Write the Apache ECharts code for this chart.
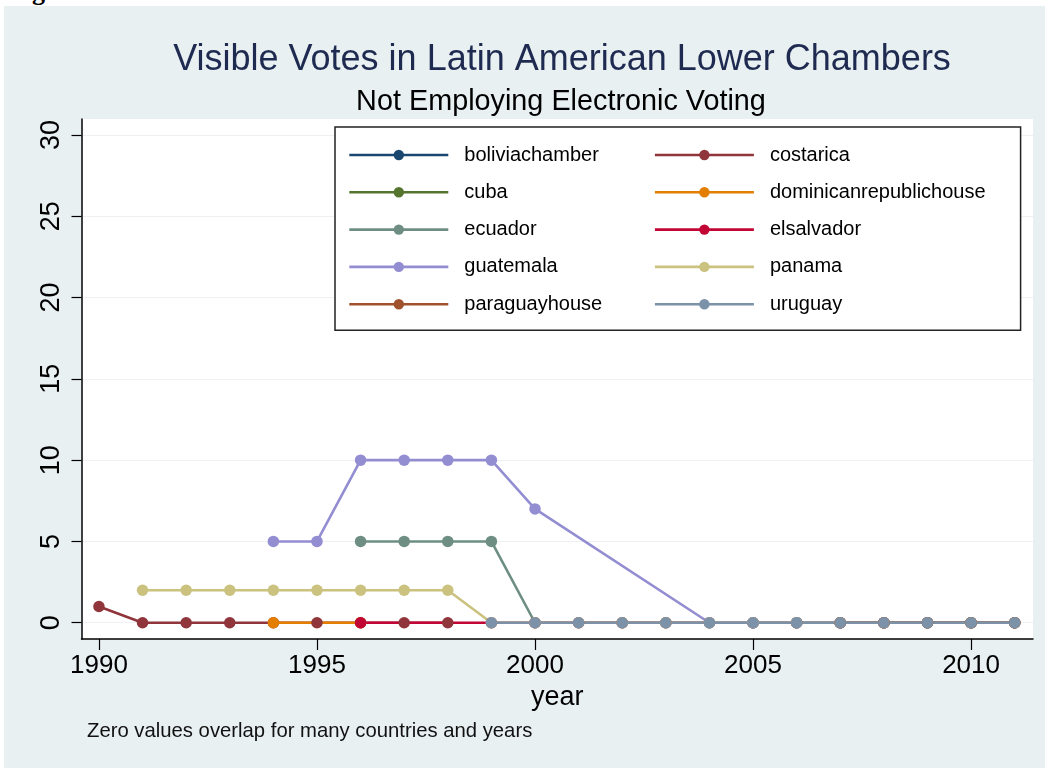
<!DOCTYPE html>
<html>
<head>
<meta charset="utf-8">
<script src="https://cdn.jsdelivr.net/npm/echarts@6/dist/echarts.min.js"></script>
<style>
  html, body { margin: 0; padding: 0; background: #ffffff; }
  #chart { position: absolute; left: 0; top: 0; width: 1045px; height: 768px; }
  #topstrip { position: absolute; left: 0; top: 0; width: 1045px; height: 6px; background: #ffffff; overflow: hidden; }
  #topstrip span { position: absolute; left: 9px; top: -23px; line-height: 30px; font: bold 26px "Liberation Serif", "DejaVu Serif", serif; color: #000; }
  #leftstrip { position: absolute; left: 0; top: 0; width: 4px; height: 768px; background: #ffffff; }
</style>
</head>
<body>
<div id="chart"></div>
<div id="leftstrip"></div>
<div id="topstrip"><span>Figure</span></div>
<script>
// ---- data ----
const years = [1990,1991,1992,1993,1994,1995,1996,1997,1998,1999,2000,2001,2002,2003,2004,2005,2006,2007,2008,2009,2010,2011];
const countries = ['boliviachamber','costarica','cuba','dominicanrepublichouse','ecuador','elsalvador','guatemala','panama','paraguayhouse','uruguay'];
const boliviachamber         = [null,null,null,null,null,null,null,null,null,null,null,null,null,null,null,0,0,0,0,0,0,0];
const costarica              = [1,0,0,0,0,0,0,0,0,null,null,null,null,null,null,null,null,null,null,null,null,null];
const cuba                   = [null,null,null,null,null,null,null,null,null,null,null,null,null,null,null,null,0,0,0,0,0,0];
const dominicanrepublichouse = [null,null,null,null,0,null,0,null,null,null,null,null,null,null,null,null,null,null,null,null,null,null];
const ecuador                = [null,null,null,null,null,null,5,5,5,5,0,0,0,0,0,0,0,0,0,0,0,0];
const elsalvador             = [null,null,null,null,null,null,0,null,null,0,0,0,0,0,0,0,0,0,0,0,0,0];
const guatemala              = [null,null,null,null,5,5,10,10,10,10,7,null,null,null,0,0,0,0,0,0,0,0];
const panama                 = [null,2,2,2,2,2,2,2,2,0,0,0,0,0,0,0,0,0,0,0,0,0];
const paraguayhouse          = [null,null,null,null,null,null,null,null,null,null,null,null,null,null,null,null,null,0,0,0,0,0];
const uruguay                = [null,null,null,null,null,null,null,null,null,0,0,0,0,0,0,0,0,0,0,0,0,0];
const seriesValues = [boliviachamber,costarica,cuba,dominicanrepublichouse,ecuador,elsalvador,guatemala,panama,paraguayhouse,uruguay];
const colors = ['#1a476f','#90353b','#55752f','#e37e00','#6e8e84','#c10534','#938dd2','#cac27e','#a0522d','#7b92a8'];
const xTicks = [1990,1995,2000,2005,2010];
const yTicks = [0,5,10,15,20,25,30];
const titleText = 'Visible Votes in Latin American Lower Chambers';
const subtitleText = 'Not Employing Electronic Voting';
const noteText = 'Zero values overlap for many countries and years';
const xName = 'year';

const FONT = '"Liberation Sans", Arial, Helvetica, sans-serif';

function pairs(vals) {
  const out = [];
  vals.forEach((v, i) => { if (v !== null) out.push([years[i], v]); });
  return out;
}

const series = countries.map((name, i) => ({
  name: name,
  type: 'line',
  data: pairs(seriesValues[i]),
  color: colors[i],
  symbol: 'circle',
  symbolSize: 11.5,
  showAllSymbol: true,
  lineStyle: { width: 2.6, color: colors[i] },
  itemStyle: { color: colors[i] },
  emphasis: { disabled: true },
  animation: false
}));

const chart = echarts.init(document.getElementById('chart'), null, { renderer: 'canvas' });
chart.setOption({
  backgroundColor: '#e8f0f2',
  animation: false,
  title: [
    { text: titleText, left: 557, top: 37, textAlign: 'center',
      textStyle: { fontFamily: FONT, fontSize: 36, fontWeight: 'normal', color: '#1e2a50' } },
    { text: subtitleText, left: 556, top: 83, textAlign: 'center',
      textStyle: { fontFamily: FONT, fontSize: 28.8, fontWeight: 'normal', color: '#000000' } }
  ],
  grid: { left: 81.5, right: 12, top: 119, bottom: 129, show: true, backgroundColor: '#ffffff', borderWidth: 0 },
  legend: {
    left: 335, top: 127,
    width: 665,
    orient: 'horizontal',
    padding: [18, 35, 16, 13],
    itemGap: 17.3,
    itemWidth: 99,
    itemHeight: 13,
    backgroundColor: '#ffffff',
    borderColor: '#222222',
    borderWidth: 1.5,
    borderRadius: 0,
    data: countries,
    lineStyle: { width: 2.6 },
    textStyle: { fontFamily: FONT, fontSize: 20, color: '#000000', width: 172, lineHeight: 20, padding: [0, 0, 0, 11] }
  },
  xAxis: {
    type: 'value',
    min: 1989.6,
    max: 2011.42,
    name: xName,
    nameLocation: 'middle',
    nameGap: 38,
    nameTextStyle: { fontFamily: FONT, fontSize: 27, color: '#000000' },
    axisLine: { show: true, onZero: false, lineStyle: { color: '#000000', width: 1.5 } },
    axisTick: { show: true, length: 11, customValues: xTicks, lineStyle: { color: '#000000', width: 1.2 } },
    axisLabel: { customValues: xTicks, margin: 14, fontFamily: FONT, fontSize: 26, color: '#000000',
      formatter: v => String(v) },
    splitLine: { show: false }
  },
  yAxis: {
    type: 'value',
    min: -1.0,
    max: 30.98,
    axisLine: { show: true, onZero: false, lineStyle: { color: '#000000', width: 1.5 } },
    axisTick: { show: true, length: 10, customValues: yTicks, lineStyle: { color: '#000000', width: 1.2 } },
    axisLabel: { customValues: yTicks, rotate: 90, margin: 16, fontFamily: FONT, fontSize: 27, color: '#000000',
      formatter: v => String(v) },
    splitLine: { show: true, lineStyle: { color: '#edf1f3', width: 1.2 } }
  },
  graphic: [
    { type: 'text', left: 87, top: 721, style: { text: noteText, font: '20.3px ' + FONT, fill: '#111111' } }
  ],
  series: series
});
</script>
</body>
</html>
